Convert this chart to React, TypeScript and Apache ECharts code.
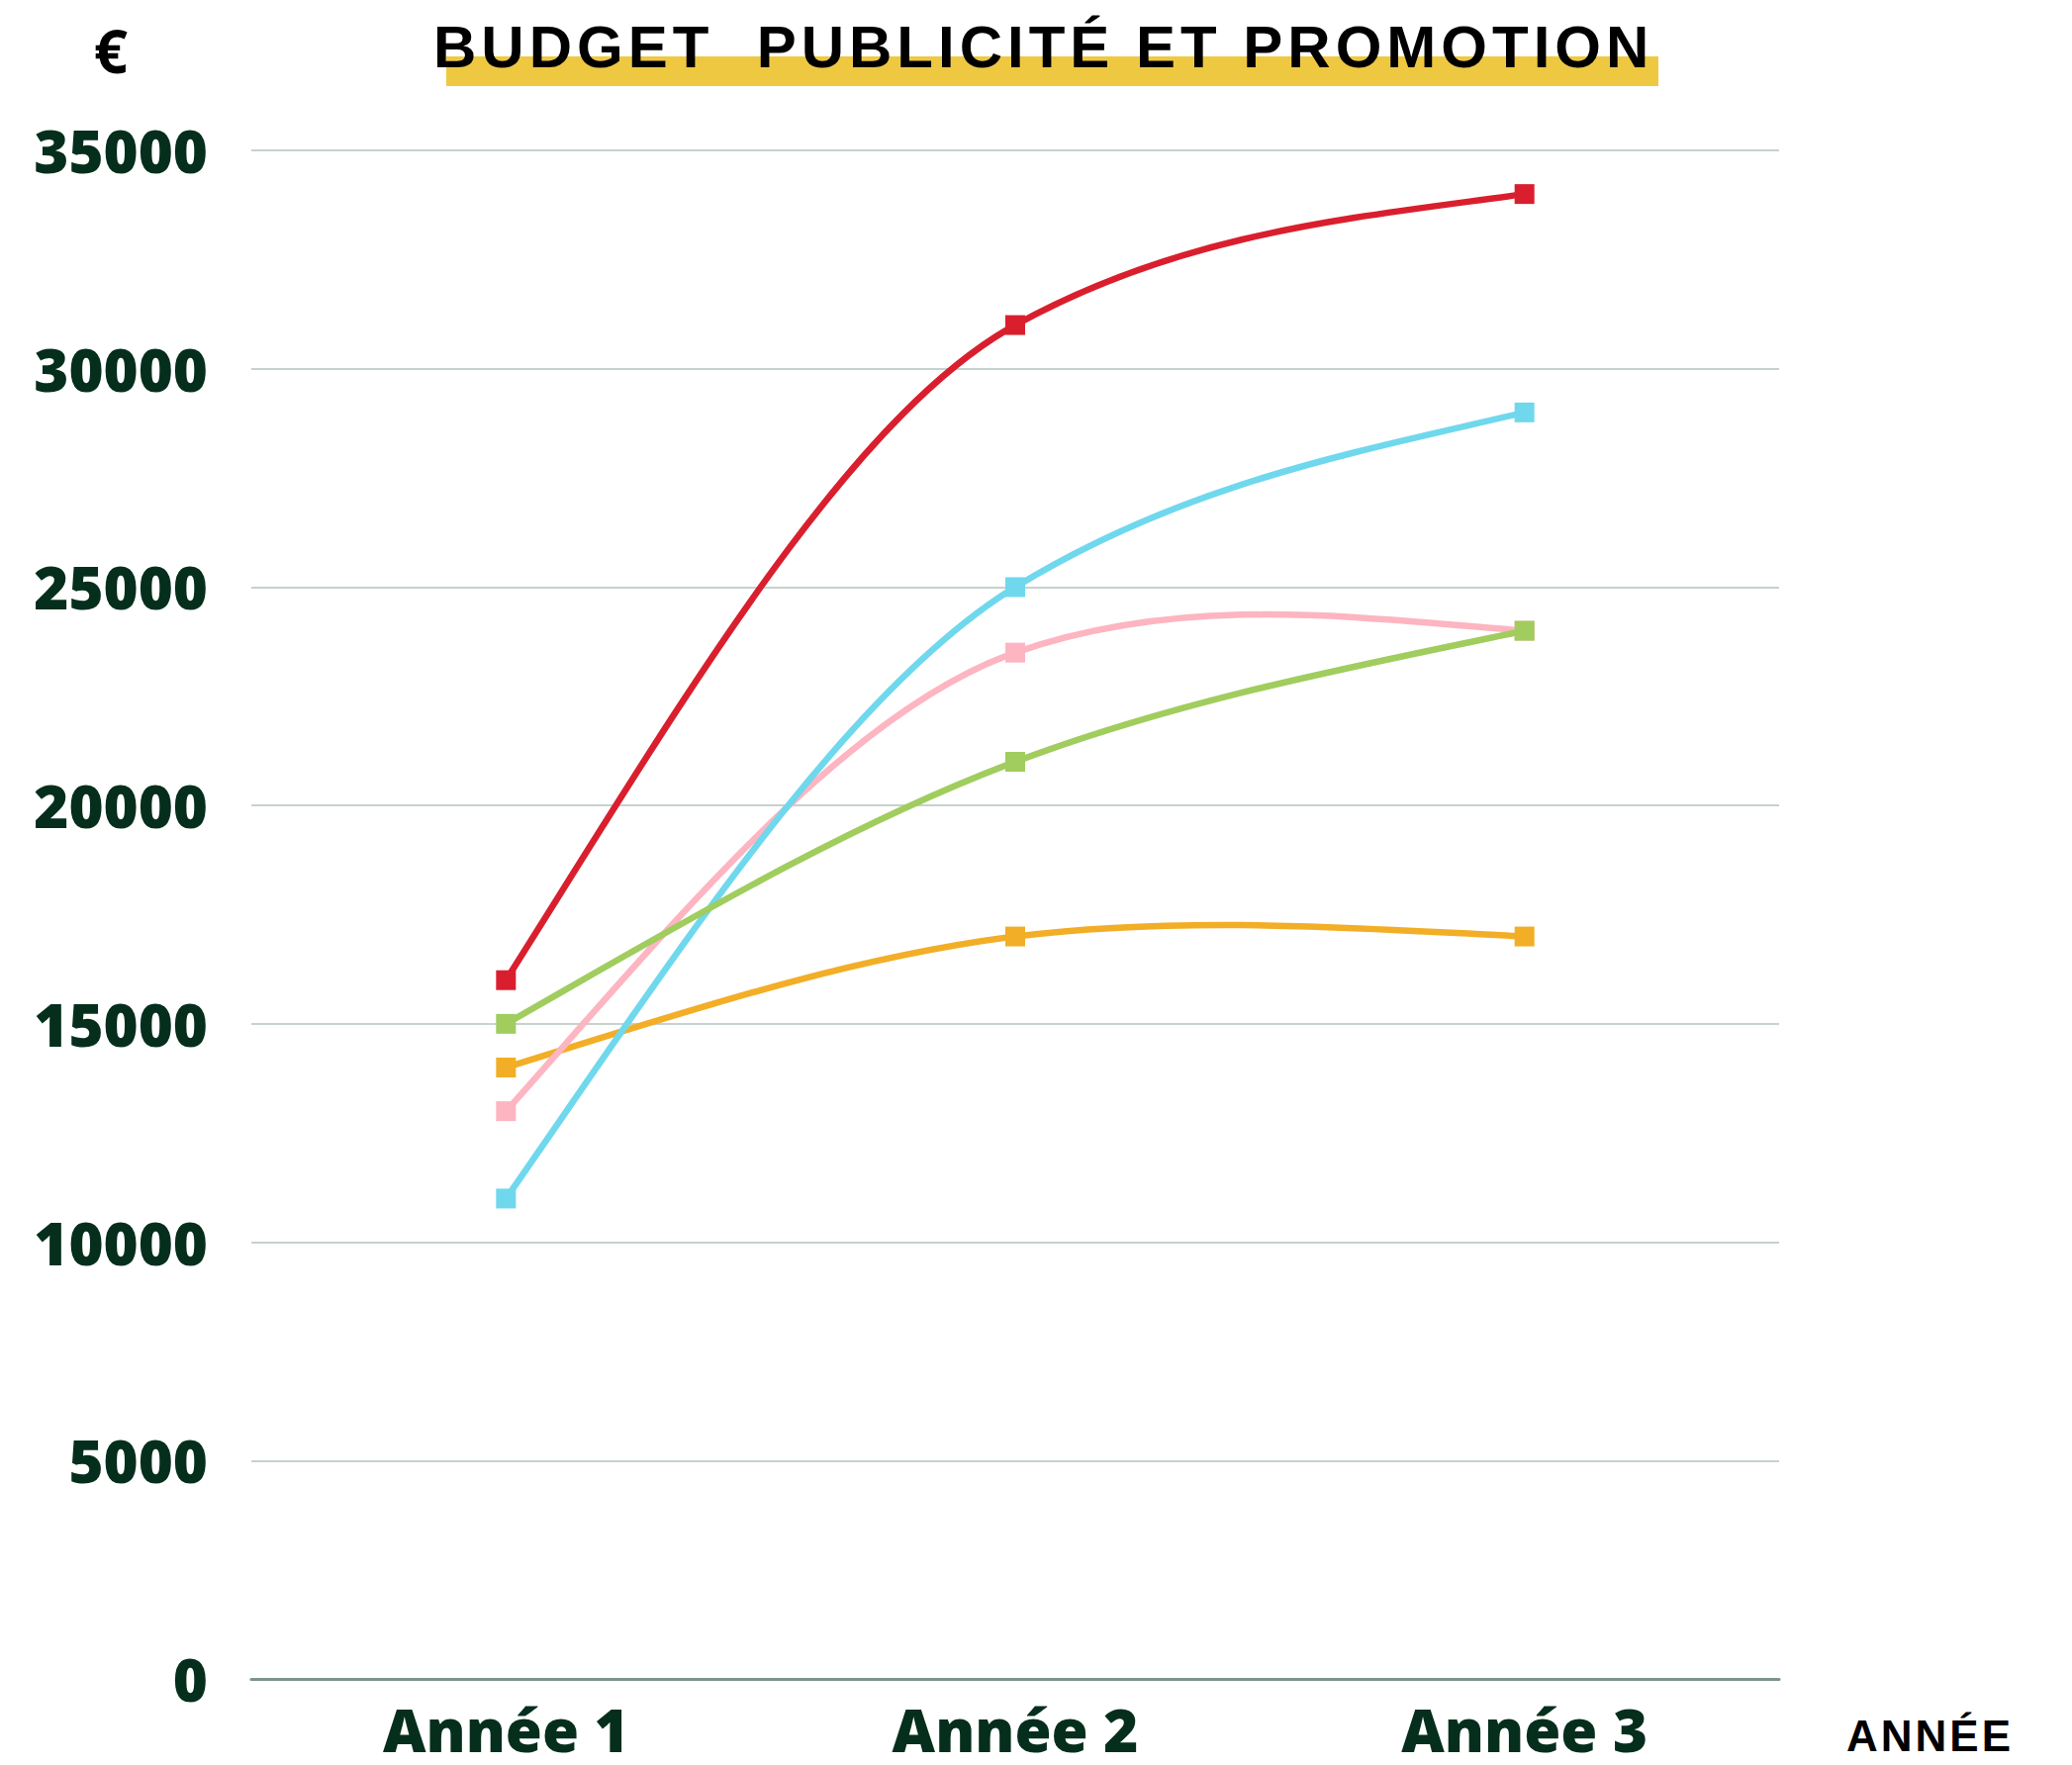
import React, { useEffect, useRef } from "react";
import * as echarts from "echarts";

const categories = ["Année 1", "Année 2", "Année 3"];
const redValues = [16000, 31000, 34000];
const cyanValues = [11000, 25000, 29000];
const pinkValues = [13000, 23500, 24000];
const greenValues = [15000, 21000, 24000];
const orangeValues = [14000, 17000, 17000];
const yTicks = { min: 0, max: 35000, interval: 5000 };

const titleText = "BUDGET  PUBLICITÉ ET PROMOTION";
const labelColor = "#052e1d";

const lines = [
  { name: "Orange", data: orangeValues, color: "#f2ae27" },
  { name: "Rose", data: pinkValues, color: "#fdb5c1" },
  { name: "Cyan", data: cyanValues, color: "#6fd8ed" },
  { name: "Vert", data: greenValues, color: "#a0cd5e" },
  { name: "Rouge", data: redValues, color: "#d91f2e" },
];

function curveSeries(name: string, values: number[], color: string, z: number) {
  return {
    name,
    type: "custom",
    data: [[0, values[0]]],
    encode: { x: 0, y: 1 },
    z,
    silent: true,
    renderItem: (_params: any, api: any) => {
      const pts: number[][] = values.map((v, i) => api.coord([i, v]));
      const n = pts.length;
      const chord = (i: number) =>
        (pts[i + 1][1] - pts[i][1]) / (pts[i + 1][0] - pts[i][0]);
      const dist = (i: number) =>
        Math.hypot(pts[i + 1][0] - pts[i][0], pts[i + 1][1] - pts[i][1]);
      const m: number[] = new Array(n).fill(0);
      for (let i = 1; i < n - 1; i++) {
        const d0 = dist(i - 1);
        const d1 = dist(i);
        const ax = (pts[i][0] - pts[i - 1][0]) / d0;
        const ay = (pts[i][1] - pts[i - 1][1]) / d0;
        const bx = (pts[i + 1][0] - pts[i][0]) / d1;
        const by = (pts[i + 1][1] - pts[i][1]) / d1;
        const w0 = d1 / (d0 + d1);
        const w1 = d0 / (d0 + d1);
        const vx = ax * w0 + bx * w1;
        const vy = ay * w0 + by * w1;
        m[i] = vy / vx;
      }
      if (n > 2) {
        m[0] = 1.4 * chord(0) - 0.4 * m[1];
        m[n - 1] = 1.4 * chord(n - 2) - 0.4 * m[n - 2];
      } else {
        m[0] = chord(0);
        m[1] = chord(0);
      }
      const children: any[] = [];
      for (let i = 0; i < n - 1; i++) {
        const a = pts[i];
        const b = pts[i + 1];
        const dx = (b[0] - a[0]) / 3;
        children.push({
          type: "bezierCurve",
          shape: {
            x1: a[0],
            y1: a[1],
            cpx1: a[0] + dx,
            cpy1: a[1] + m[i] * dx,
            cpx2: b[0] - dx,
            cpy2: b[1] - m[i + 1] * dx,
            x2: b[0],
            y2: b[1],
          },
          style: { stroke: color, lineWidth: 6.5, fill: "none", lineCap: "round" },
        });
      }
      return { type: "group", children };
    },
  };
}

function markerSeries(name: string, values: number[], color: string, z: number) {
  return {
    name: name + " points",
    type: "scatter",
    data: values,
    symbol: "rect",
    symbolSize: 20,
    z,
    itemStyle: { color, opacity: 1 },
    silent: true,
  };
}

export default function App() {
  const ref = useRef<HTMLDivElement>(null);
  useEffect(() => {
    if (!ref.current) return;
    const chart = echarts.init(ref.current, undefined, { renderer: "svg" });
    const series: any[] = [];
    lines.forEach((l, i) => {
      series.push(curveSeries(l.name, l.data, l.color, 2 + i));
      series.push(markerSeries(l.name, l.data, l.color, 2 + i));
    });
    chart.setOption({
      animation: false,
      backgroundColor: "#ffffff",
      grid: { left: 254, right: 296, top: 152, bottom: 87, containLabel: false },
      xAxis: {
        type: "category",
        data: categories,
        boundaryGap: true,
        axisLine: { show: true, lineStyle: { color: "#7d948b", width: 3 } },
        axisTick: { show: false },
        axisLabel: {
          color: labelColor,
          fontFamily: "Open Sans",
          fontWeight: 800,
          fontSize: 60,
          lineHeight: 50,
          margin: 26,
        },
      },
      yAxis: {
        type: "value",
        min: yTicks.min,
        max: yTicks.max,
        interval: yTicks.interval,
        axisLine: { show: false },
        axisTick: { show: false },
        splitLine: { lineStyle: { color: "#c6d2ce", width: 2 } },
        axisLabel: {
          color: labelColor,
          fontFamily: "Open Sans",
          fontWeight: 800,
          fontSize: 60,
          margin: 44,
          formatter: (v: number) => String(v),
        },
      },
      graphic: [
        {
          type: "rect",
          shape: { x: 451, y: 57, width: 1225, height: 30 },
          style: { fill: "#efc842" },
          z: 1,
        },
        {
          type: "text",
          id: "title",
          x: 438,
          y: 47,
          style: {
            text: titleText,
            fill: "#000000",
            font: "bold 60px 'Liberation Sans'",
            textAlign: "left",
            textVerticalAlign: "middle",
          },
          z: 2,
        },
        {
          type: "text",
          x: 112,
          y: 51,
          style: {
            text: "€",
            fill: "#000000",
            font: "bold 60px 'Open Sans'",
            textAlign: "center",
            textVerticalAlign: "middle",
          },
        },
        {
          type: "text",
          id: "annee",
          x: 1866,
          y: 1754,
          style: {
            text: "ANNÉE",
            fill: "#000000",
            font: "bold 44px 'Liberation Sans'",
            textAlign: "left",
            textVerticalAlign: "middle",
          },
        },
      ],
      series,
    });
    const svg = ref.current.querySelector("svg");
    if (svg) {
      svg.querySelectorAll("text").forEach((t) => {
        const s = t.textContent || "";
        if (s.indexOf("BUDGET") >= 0) t.style.letterSpacing = "5px";
        if (s === "ANNÉE") t.style.letterSpacing = "3px";
      });
    }
    return () => chart.dispose();
  }, []);
  return (
    <div
      ref={ref}
      style={{ position: "fixed", left: 0, top: 0, width: 2094, height: 1784 }}
    />
  );
}
